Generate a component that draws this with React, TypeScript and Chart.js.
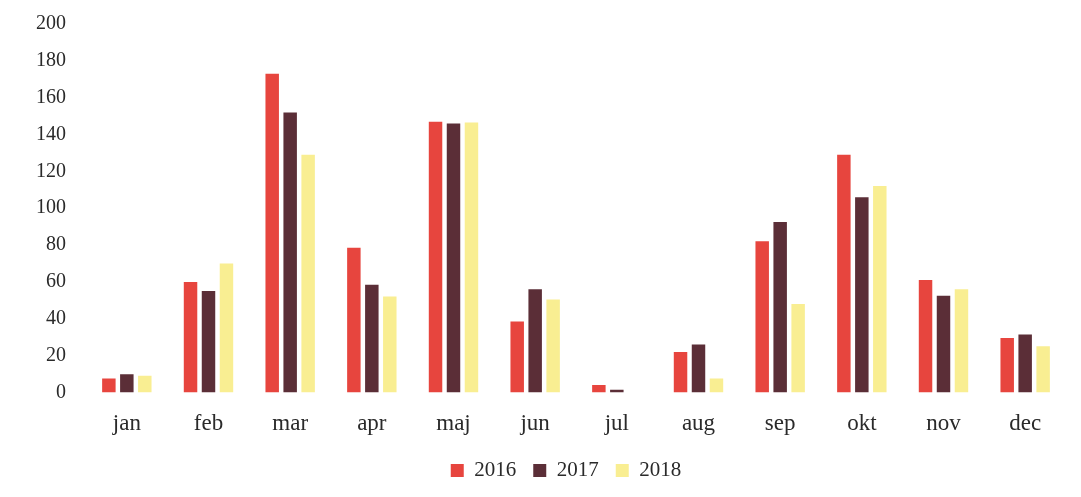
import React, { useEffect, useRef } from "react";
import { Chart, registerables } from "chart.js";

Chart.register(...registerables);

const categories = ["jan", "feb", "mar", "apr", "maj", "jun", "jul", "aug", "sep", "okt", "nov", "dec"];
const seriesNames = ["2016", "2017", "2018"];
const values2016 = [7.5, 60, 173, 78.5, 147, 38.5, 4, 22, 82, 129, 61, 29.5];
const values2017 = [9.8, 55, 152, 58.5, 146, 56, 1.5, 26, 92.5, 106, 52.5, 31.5];
const values2018 = [9, 70, 129, 52, 146.5, 50.5, 0, 7.5, 48, 112, 56, 25];
const colors = ["#e7453e", "#5b2e37", "#f9ee92"];

const legendShift = {
  id: "legendShift",
  afterInit(chart: any) {
    const lg = chart.legend;
    if (!lg) return;
    const orig = lg.draw.bind(lg);
    lg.draw = (...args: any[]) => {
      const ctx = chart.ctx;
      ctx.save();
      ctx.translate(25, 0);
      orig(...args);
      ctx.restore();
    };
  },
};

export default function App() {
  const ref = useRef<HTMLCanvasElement | null>(null);
  useEffect(() => {
    if (!ref.current) return;
    const chart = new Chart(ref.current, {
      type: "bar",
      data: {
        labels: categories,
        datasets: [values2016, values2017, values2018].map((d, i) => ({
          label: seriesNames[i],
          data: d,
          backgroundColor: colors[i],
          borderWidth: 0,
          categoryPercentage: 0.66,
          barPercentage: 0.75,
        })),
      },
      plugins: [legendShift],
      options: {
        animation: false,
        responsive: false,
        maintainAspectRatio: false,
        layout: { padding: { top: 24, right: 15, left: 16, bottom: 6 } },
        plugins: {
          tooltip: { enabled: false },
          legend: {
            position: "bottom",
            labels: {
              boxWidth: 13,
              boxHeight: 13,
              padding: 17,
              color: "#2a2a2a",
              font: { family: "Liberation Serif", size: 21 },
            },
          },
        },
        scales: {
          x: {
            grid: { display: false },
            border: { display: false },
            afterFit: (axis: any) => {
              axis.height = axis.height - 5;
            },
            ticks: { color: "#2a2a2a", font: { family: "Liberation Serif", size: 23 }, padding: 10 },
          },
          y: {
            min: 0,
            max: 200,
            grid: { display: false },
            border: { display: false },
            afterFit: (axis: any) => {
              axis.width = 70;
              axis.paddingTop = 0;
              axis.paddingBottom = 0;
            },
            ticks: { stepSize: 20, color: "#2a2a2a", font: { family: "Liberation Serif", size: 20 }, padding: 12 },
          },
        },
      },
    });
    return () => chart.destroy();
  }, []);
  return (
    <div style={{ position: "fixed", left: 0, top: 0, width: 1081, height: 497, background: "#fff" }}>
      <canvas ref={ref} width={1081} height={497} style={{ width: 1081, height: 497 }} />
    </div>
  );
}
